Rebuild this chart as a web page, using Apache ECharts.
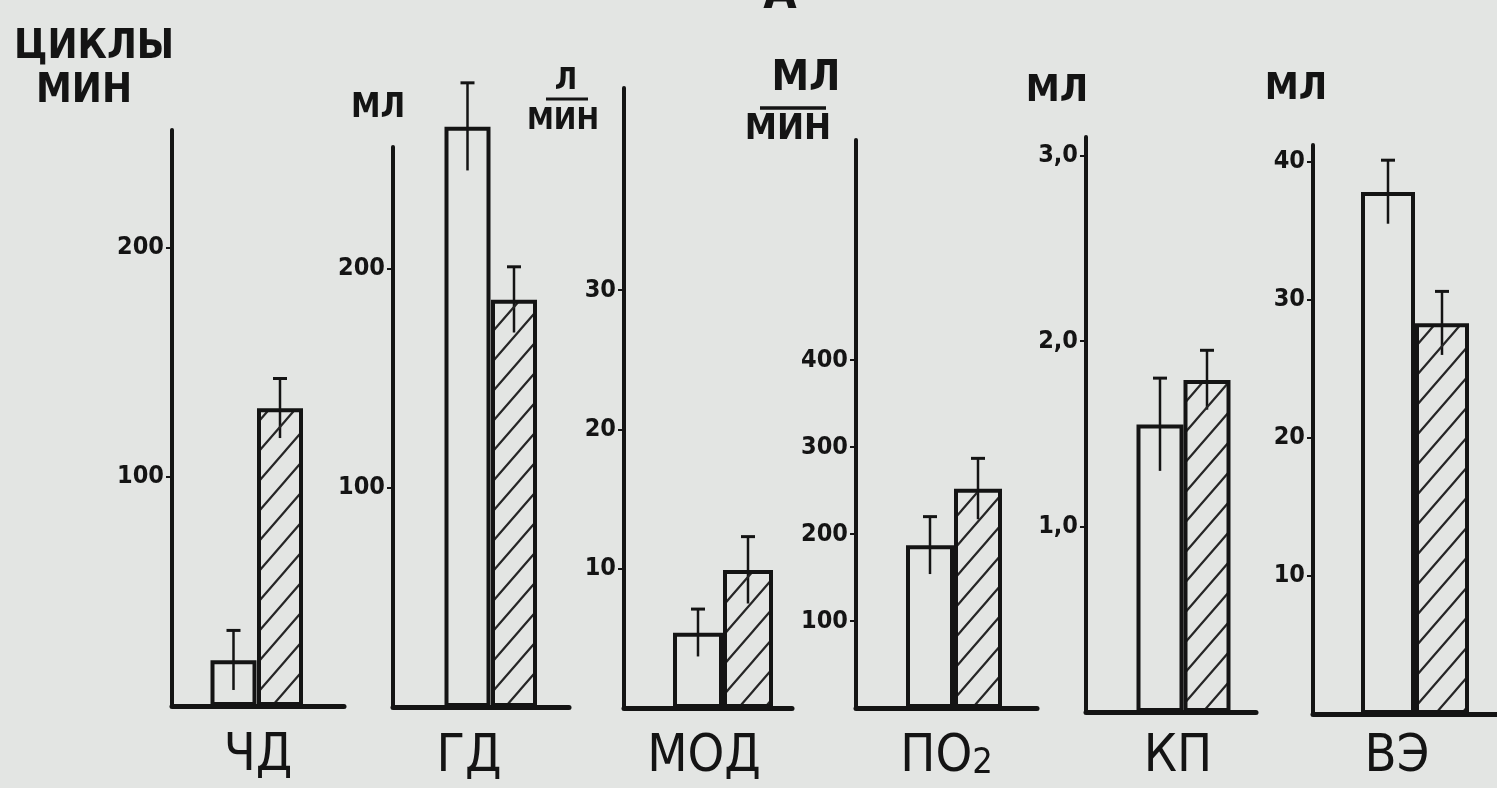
<!DOCTYPE html>
<html>
<head>
<meta charset="utf-8">
<script src="https://cdn.jsdelivr.net/npm/echarts@6/dist/echarts.min.js"></script>
<style>
html,body{margin:0;padding:0;background:#e3e5e3;}
#chart{width:1497px;height:788px;}
</style>
</head>
<body>
<div id="chart"></div>
<script>
// ---- DATA ----
const categories = ['ЧД', 'ГД', 'МОД', 'ПО2', 'КП', 'ВЭ'];
const controlValues = [20, 265, 5.4, 187, 1.55, 37.8];
const controlErrors = [13, 20, 1.7, 33, 0.25, 2.3];
const testValues = [130, 186, 9.9, 252, 1.79, 28.3];
const testErrors = [13, 15, 2.4, 35, 0.16, 2.3];
const tickValuesCHD = [100, 200];
const tickValuesGD = [100, 200];
const tickValuesMOD = [10, 20, 30];
const tickValuesPO2 = [100, 200, 300, 400];
const tickValuesKP = [1, 2, 3];
const tickValuesVE = [10, 20, 30, 40];
const tickLabelsKP = ['1,0', '2,0', '3,0'];
const axisMax = [251.5, 255.7, 44.5, 653, 3.1, 41.2];

// ---- LAYOUT (pixels) ----
const layout = [
  {left: 172, right: 344, top: 130, bottom: 706, c1: 233.5, c2: 280, bw: 46, nameGap: 24, namePad: [0, 0, 0, 0]},
  {left: 393, right: 569, top: 147, bottom: 707, c1: 467.5, c2: 514, bw: 46, nameGap: 24, namePad: [0, 24, 0, 0]},
  {left: 624, right: 792, top: 88,  bottom: 708, c1: 698, c2: 748, bw: 50, nameGap: 23, namePad: [0, 8, 0, 0]},
  {left: 856, right: 1037, top: 140, bottom: 708, c1: 930, c2: 978, bw: 48, nameGap: 23, namePad: [0, 0, 0, 0]},
  {left: 1086, right: 1256, top: 137, bottom: 712, c1: 1160, c2: 1207, bw: 47, nameGap: 19, namePad: [0, 0, 0, 14]},
  {left: 1313, right: 1497, top: 145, bottom: 714, c1: 1388, c2: 1442, bw: 54, nameGap: 17, namePad: [0, 16, 0, 0]}
];
const tickSets = [tickValuesCHD, tickValuesGD, tickValuesMOD, tickValuesPO2, tickValuesKP, tickValuesVE];
const tickFormatters = [null, null, null, null, v => tickLabelsKP[tickValuesKP.indexOf(v)], null];

const FONT = "'Liberation Sans Narrow', 'DejaVu Sans Condensed', 'Roboto Condensed', sans-serif";
const INK = '#141414';

// hatch pattern
function makeHatch() {
  const w = 26, h = 30;
  const c = document.createElement('canvas');
  c.width = w; c.height = h;
  const g = c.getContext('2d');
  g.strokeStyle = '#262626';
  g.lineWidth = 2.2;
  g.beginPath();
  g.moveTo(-w * 0.1, h * 1.1); g.lineTo(w * 1.1, -h * 0.1);
  g.moveTo(-w * 0.1, h * 0.1); g.lineTo(w * 0.1, -h * 0.1);
  g.moveTo(w * 0.9, h * 1.1); g.lineTo(w * 1.1, h * 0.9);
  g.stroke();
  return c;
}
const hatch = makeHatch();

const grids = [], xAxes = [], yAxes = [], series = [];
layout.forEach((L, i) => {
  grids.push({left: L.left, top: L.top, width: L.right - L.left, height: L.bottom - L.top,
    containLabel: false, outerBoundsMode: 'none'});
  const nameRich = {
    a: {fontFamily: FONT, fontSize: 52, color: INK},
    s: {fontFamily: FONT, fontSize: 36, color: INK, padding: [14, 0, 0, 0]}
  };
  const nm = categories[i] === 'ПО2' ? '{a|ПО}{s|2}' : '{a|' + categories[i] + '}';
  xAxes.push({
    gridIndex: i, type: 'value', min: 0, max: L.right - L.left,
    axisLine: {show: true, onZero: false, lineStyle: {color: INK, width: 5}},
    axisTick: {show: false}, axisLabel: {show: false}, splitLine: {show: false},
    name: nm, nameLocation: 'middle', nameGap: L.nameGap,
    nameTextStyle: {rich: nameRich, padding: L.namePad}
  });
  const fmt = tickFormatters[i] || (v => String(v));
  yAxes.push({
    gridIndex: i, type: 'value', min: 0, max: axisMax[i],
    axisLine: {show: true, lineStyle: {color: INK, width: 4}},
    axisTick: {show: true, customValues: tickSets[i], length: 6, lineStyle: {color: INK, width: 2}},
    axisLabel: {show: true, customValues: tickSets[i], formatter: fmt, margin: 8,
      fontFamily: FONT, fontSize: 25, fontWeight: 'bold', color: INK},
    splitLine: {show: false}
  });
  series.push({
    type: 'bar', xAxisIndex: i, yAxisIndex: i, barWidth: L.bw, clip: false,
    data: [
      {value: [L.c1 - L.left, controlValues[i]],
       itemStyle: {color: 'rgba(0,0,0,0)', borderColor: INK, borderWidth: 4}},
      {value: [L.c2 - L.left, testValues[i]],
       itemStyle: {color: {image: hatch, repeat: 'repeat'}, borderColor: INK, borderWidth: 4}}
    ],
    silent: true
  });
  series.push({
    type: 'custom', xAxisIndex: i, yAxisIndex: i, clip: false, silent: true,
    data: [
      [L.c1 - L.left, controlValues[i], controlErrors[i]],
      [L.c2 - L.left, testValues[i], testErrors[i]]
    ],
    renderItem: function (params, api) {
      const x = api.value(0), v = api.value(1), e = api.value(2);
      const top = api.coord([x, v + e]);
      const bot = api.coord([x, v - e]);
      return {
        type: 'group',
        children: [
          {type: 'line', shape: {x1: top[0], y1: top[1], x2: bot[0], y2: bot[1]},
           style: {stroke: INK, lineWidth: 2.5}},
          {type: 'line', shape: {x1: top[0] - 7, y1: top[1], x2: top[0] + 7, y2: top[1]},
           style: {stroke: INK, lineWidth: 3}}
        ]
      };
    }
  });
});

function txt(x, y, s, size, align) {
  return {type: 'text', x: x, y: y, style: {text: s, fontFamily: FONT, fontSize: size,
    fontWeight: 'bold', fill: INK, align: align || 'left', verticalAlign: 'top'}};
}
function hline(x1, x2, y, w) {
  return {type: 'line', shape: {x1: x1, y1: y, x2: x2, y2: y}, style: {stroke: INK, lineWidth: w || 3}};
}

const graphics = [
  txt(780, -28, 'А', 48, 'center'),
  txt(14, 28, 'ЦИКЛЫ', 40),
  txt(36, 72, 'МИН', 40),
  txt(378, 92, 'МЛ', 33, 'center'),
  txt(566, 66, 'Л', 30, 'center'),
  hline(546, 588, 99, 3),
  txt(563, 106, 'МИН', 30, 'center'),
  txt(806, 58, 'МЛ', 42, 'center'),
  hline(760, 826, 108, 3.5),
  txt(788, 112, 'МИН', 36, 'center'),
  txt(1057, 72, 'МЛ', 38, 'center'),
  txt(1296, 70, 'МЛ', 38, 'center')
];

const chart = echarts.init(document.getElementById('chart'), null, {renderer: 'canvas'});
chart.setOption({
  backgroundColor: '#e3e5e3',
  animation: false,
  grid: grids, xAxis: xAxes, yAxis: yAxes, series: series,
  graphic: graphics
});
</script>
</body>
</html>
